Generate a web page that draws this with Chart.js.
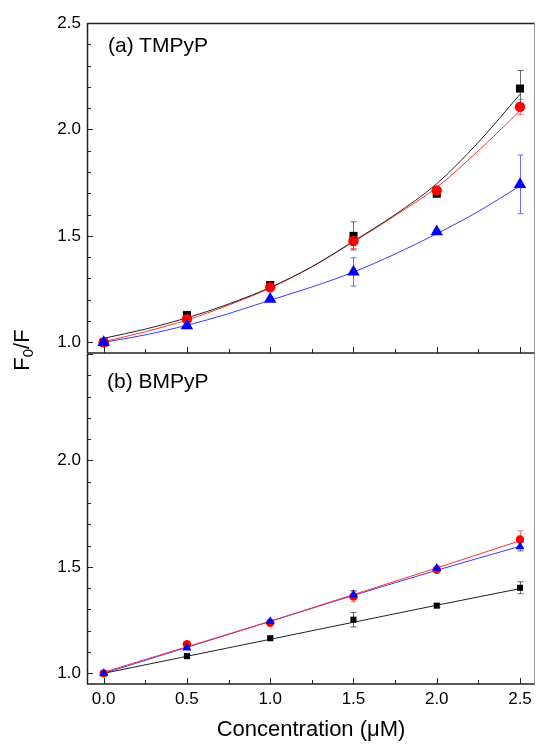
<!DOCTYPE html>
<html>
<head>
<meta charset="utf-8">
<script src="https://cdn.jsdelivr.net/npm/chart.js@4"></script>
<style>
  html, body { margin: 0; padding: 0; background: #fff; }
  #wrap { position: relative; width: 536px; height: 745px; overflow: hidden; font-family: "Liberation Sans", Arial, sans-serif; color: #000; }
  .pane { position: absolute; left: 0; }
  .tag { position: absolute; font-size: 21px; line-height: 24px; white-space: nowrap; }
  #ytitle { position: absolute; left: 22px; top: 350px; font-size: 22px; white-space: nowrap; transform: translate(-50%, -50%) rotate(-90deg); }
  #ytitle sub { font-size: 15px; vertical-align: -4px; line-height: 0; }
</style>
</head>
<body>
<div id="wrap">
  <div class="pane" style="top:0"><canvas id="chartA" width="550" height="354"></canvas></div>
  <div class="pane" style="top:354px"><canvas id="chartB" width="550" height="391"></canvas></div>
  <div class="tag" style="left:108px;top:33px">(a) TMPyP</div>
  <div class="tag" style="left:107px;top:369px">(b) BMPyP</div>
  <div id="ytitle">F<sub>0</sub>/F</div>
</div>
<script>
// 浓度 (μM)
const concentrations = [0, 0.5, 1.0, 1.5, 2.0, 2.5];
const fitX = [0, 0.25, 0.5, 0.75, 1.0, 1.25, 1.5, 1.75, 2.0, 2.25, 2.5];

// (a) TMPyP
const aBlack = [1.0, 1.128, 1.269, 1.500, 1.698, 2.192];
const aBlackErr = [0.008, 0.01, 0.01, 0.066, 0.01, 0.085];
const aRed = [1.0, 1.109, 1.259, 1.476, 1.714, 2.106];
const aRedErr = [0.008, 0.01, 0.01, 0.035, 0.01, 0.035];
const aBlue = [1.0, 1.078, 1.203, 1.331, 1.520, 1.742];
const aBlueErr = [0.005, 0.01, 0.01, 0.066, 0.005, 0.138];
const aBlackFit = [1.019, 1.062, 1.115, 1.180, 1.258, 1.355, 1.475, 1.600, 1.745, 1.940, 2.165];
const aRedFit = [1.003, 1.050, 1.105, 1.175, 1.255, 1.355, 1.472, 1.595, 1.728, 1.900, 2.088];
const aBlueFit = [1.0, 1.035, 1.080, 1.135, 1.198, 1.260, 1.330, 1.415, 1.510, 1.615, 1.735];

// (b) BMPyP
const bBlack = [1.0, 1.081, 1.165, 1.252, 1.318, 1.402];
const bBlackErr = [0.005, 0.008, 0.008, 0.034, 0.008, 0.028];
const bRed = [1.0, 1.137, 1.237, 1.361, 1.486, 1.629];
const bRedErr = [0.005, 0.008, 0.01, 0.025, 0.01, 0.04];
const bBlue = [1.0, 1.120, 1.244, 1.369, 1.494, 1.595];
const bBlueErr = [0.005, 0.008, 0.008, 0.02, 0.01, 0.02];
const bBlackFit = [1.0, 1.080, 1.160, 1.240, 1.320, 1.398];
const bRedFit = [1.005, 1.125, 1.245, 1.370, 1.495, 1.623];
const bBlueFit = [1.0, 1.122, 1.244, 1.366, 1.484, 1.597];

// 刻度
const xTicks = [0, 0.5, 1.0, 1.5, 2.0, 2.5];
const xTickLabels = ['0.0', '0.5', '1.0', '1.5', '2.0', '2.5'];
const yTicksA = [1.0, 1.5, 2.0, 2.5];
const yTickLabelsA = ['1.0', '1.5', '2.0', '2.5'];
const yTicksB = [1.0, 1.5, 2.0];
const yTickLabelsB = ['1.0', '1.5', '2.0'];
const xTitle = 'Concentration (μM)';

const FONT = '"Liberation Sans", Arial, sans-serif';
const pts = (xs, ys) => xs.map((x, i) => ({ x: x, y: ys[i] }));

// 误差棒
const errorBars = {
  id: 'errorBars',
  beforeDatasetsDraw(chart) {
    const ctx = chart.ctx, xs = chart.scales.x, ys = chart.scales.y;
    chart.data.datasets.forEach(ds => {
      if (!ds.errors) return;
      ctx.save();
      ctx.strokeStyle = ds.errorColor;
      ctx.lineWidth = 1;
      ds.data.forEach((p, i) => {
        const e = ds.errors[i];
        const x = Math.round(xs.getPixelForValue(p.x)) + 0.5;
        const y1 = ys.getPixelForValue(p.y + e), y2 = ys.getPixelForValue(p.y - e);
        ctx.beginPath();
        ctx.moveTo(x, y1); ctx.lineTo(x, y2);
        ctx.moveTo(x - 3, y1); ctx.lineTo(x + 3, y1);
        ctx.moveTo(x - 3, y2); ctx.lineTo(x + 3, y2);
        ctx.stroke();
      });
      ctx.restore();
    });
  }
};

// 边框和向内刻度
const frame = {
  id: 'frame',
  afterDraw(chart, args, opts) {
    const ctx = chart.ctx, a = chart.chartArea, xs = chart.scales.x, ys = chart.scales.y;
    ctx.save();
    ctx.strokeStyle = '#222';
    ctx.lineWidth = 1.5;
    ctx.beginPath();
    if (opts.top) { ctx.moveTo(a.left, a.top + 0.5); ctx.lineTo(a.right, a.top + 0.5); }
    ctx.moveTo(a.left, a.bottom); ctx.lineTo(a.right, a.bottom);
    ctx.moveTo(a.left + 0.5, a.top); ctx.lineTo(a.left + 0.5, a.bottom);
    ctx.stroke();
    ctx.strokeStyle = '#999';
    ctx.lineWidth = 1;
    ctx.beginPath();
    ctx.moveTo(a.right - 0.5, a.top); ctx.lineTo(a.right - 0.5, a.bottom);
    ctx.stroke();
    ctx.strokeStyle = '#222';
    ctx.lineWidth = 1;
    ctx.beginPath();
    for (let v = 0; v <= 2.5001; v += 0.25) {
      const x = Math.round(xs.getPixelForValue(v)) + 0.5;
      const len = Math.abs(v / 0.5 - Math.round(v / 0.5)) < 1e-6 ? 6 : 4;
      ctx.moveTo(x, a.bottom); ctx.lineTo(x, a.bottom - len);
    }
    for (let v = 1.0; v <= 2.5001; v += 0.1) {
      const y = Math.round(ys.getPixelForValue(v)) + 0.5;
      const len = Math.abs(v / 0.5 - Math.round(v / 0.5)) < 1e-6 ? 6 : 4;
      ctx.moveTo(a.left, y); ctx.lineTo(a.left + len, y);
    }
    ctx.stroke();
    ctx.restore();
  }
};

function markerSets(black, blackErr, red, redErr, blue, blueErr, sizes) {
  return [
    { data: pts(concentrations, blue), errors: blueErr, errorColor: '#6b6bff', pointStyle: 'triangle',
      pointRadius: sizes[2], backgroundColor: '#0000ff', borderColor: '#0000ff', borderWidth: 0, showLine: false, order: 1 },
    { data: pts(concentrations, red), errors: redErr, errorColor: '#ff6a6a', pointStyle: 'circle',
      pointRadius: sizes[1], backgroundColor: '#ff0000', borderColor: '#ff0000', borderWidth: 0, showLine: false, order: 2 },
    { data: pts(concentrations, black), errors: blackErr, errorColor: '#666', pointStyle: 'rect',
      pointRadius: sizes[0], backgroundColor: '#000', borderColor: '#000', borderWidth: 0, showLine: false, order: 3 }
  ];
}

function fitSet(xs, ys, color) {
  return { data: pts(xs, ys), showLine: true, pointRadius: 0, borderColor: color, borderWidth: 1,
    cubicInterpolationMode: 'monotone', fill: false, order: 5 };
}

function noPad(s) {
  s.paddingTop = 0; s.paddingBottom = 0; s.paddingLeft = 0; s.paddingRight = 0;
}

function yScale(ticks, labels) {
  return {
    min: 0.95, max: 2.5,
    afterBuildTicks: s => { s.ticks = ticks.map(v => ({ value: v })); },
    afterFit: s => { s.width = 87; noPad(s); },
    grid: { display: false, drawTicks: false },
    border: { display: false },
    ticks: { padding: 6, color: '#000', font: { family: FONT, size: 17 },
      callback: v => labels[ticks.indexOf(v)] }
  };
}

function xScale(showLabels, height) {
  return {
    type: 'linear', min: -0.1, max: 2.59,
    afterBuildTicks: s => { s.ticks = xTicks.map(v => ({ value: v })); },
    afterFit: s => { s.height = height; noPad(s); },
    grid: { display: false, drawTicks: false },
    border: { display: false },
    ticks: { display: showLabels, padding: 5, maxRotation: 0, color: '#000', font: { family: FONT, size: 17 },
      callback: v => xTickLabels[xTicks.indexOf(v)] },
    title: { display: showLabels, text: xTitle, color: '#000', font: { family: FONT, size: 22 }, padding: { top: 0, bottom: 2 } }
  };
}

const common = {
  responsive: false,
  animation: false,
  devicePixelRatio: 1,
  plugins: { legend: { display: false }, tooltip: { enabled: false } }
};

new Chart(document.getElementById('chartA').getContext('2d'), {
  type: 'scatter',
  data: {
    datasets: [
      ...markerSets(aBlack, aBlackErr, aRed, aRedErr, aBlue, aBlueErr, [5.7, 5.2, 7.2]),
      fitSet(fitX, aBlackFit, '#222'),
      fitSet(fitX, aRedFit, '#ff3030'),
      fitSet(fitX, aBlueFit, '#3a3aff')
    ]
  },
  options: {
    ...common,
    layout: { autoPadding: false, padding: { top: 23, right: 15, left: 0, bottom: 0 } },
    scales: { x: xScale(false, 1), y: yScale(yTicksA, yTickLabelsA) },
    plugins: { ...common.plugins, frame: { top: true } }
  },
  plugins: [errorBars, frame]
});

new Chart(document.getElementById('chartB').getContext('2d'), {
  type: 'scatter',
  data: {
    datasets: [
      ...markerSets(bBlack, bBlackErr, bRed, bRedErr, bBlue, bBlueErr, [4.3, 4.2, 5.2]),
      fitSet(concentrations, bBlackFit, '#222'),
      fitSet(concentrations, bRedFit, '#ff3030'),
      fitSet(concentrations, bBlueFit, '#3a3aff')
    ]
  },
  options: {
    ...common,
    layout: { autoPadding: false, padding: { top: 0, right: 15, left: 0, bottom: 0 } },
    scales: { x: xScale(true, 61), y: yScale(yTicksB, yTickLabelsB) },
    plugins: { ...common.plugins, frame: { top: false } }
  },
  plugins: [errorBars, frame]
});
</script>
</body>
</html>
